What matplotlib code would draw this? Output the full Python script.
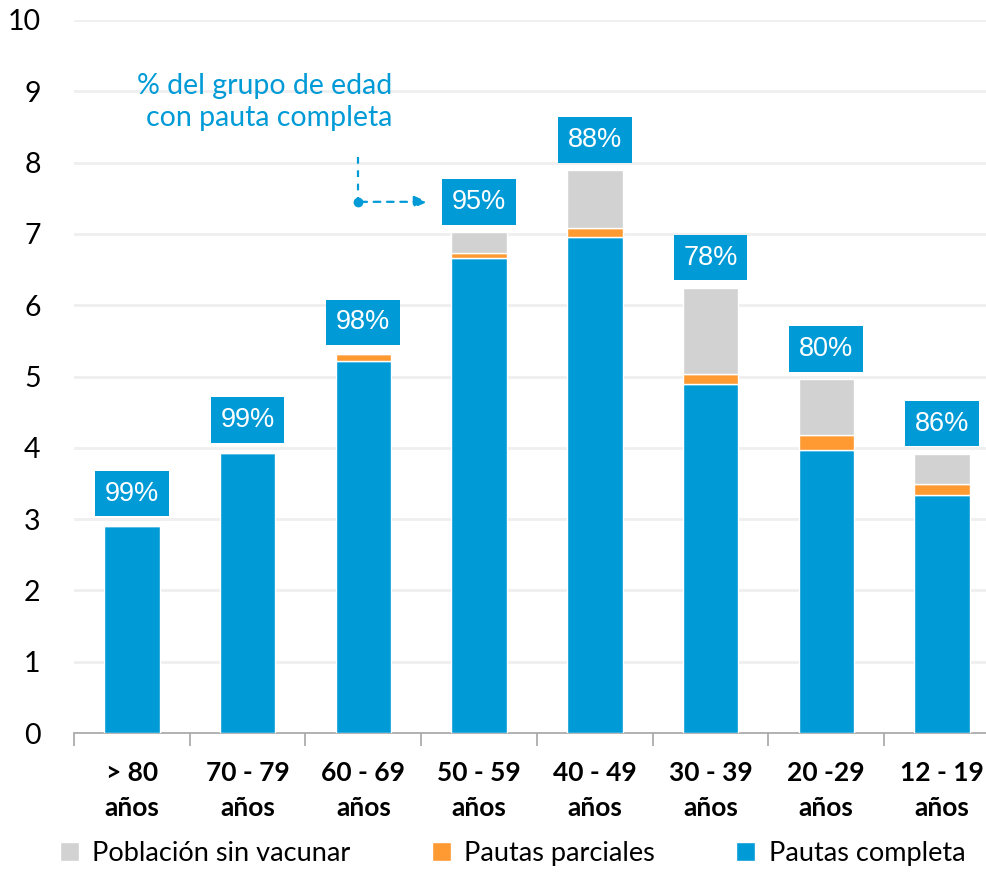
import numpy as np
import matplotlib.pyplot as plt
from matplotlib.ticker import FixedLocator

# datos (millones de personas por grupo de edad)
grupos = ['> 80\naños', '70 - 79\naños', '60 - 69\naños', '50 - 59\naños',
          '40 - 49\naños', '30 - 39\naños', '20 -29\naños', '12 - 19\naños']
completa = [2.91, 3.93, 5.22, 6.66, 6.96, 4.89, 3.97, 3.34]
parcial = [0.01, 0.01, 0.09, 0.07, 0.12, 0.15, 0.21, 0.15]
sin_vacunar = [0.01, 0.02, 0.02, 0.29, 0.81, 1.20, 0.78, 0.42]
pct = ['99%', '99%', '98%', '95%', '88%', '78%', '80%', '86%']

azul = '#009BD6'
naranja = '#FF9A33'
gris = '#D2D2D2'

plt.rcParams['font.family'] = ['Lato', 'DejaVu Sans']

fig = plt.figure(figsize=(9.86, 8.75), dpi=100)
ax = fig.add_axes([74 / 986, 142 / 875, 912 / 986, 713 / 875])

x = np.arange(len(grupos))
completa = np.array(completa)
parcial = np.array(parcial)
sin_vacunar = np.array(sin_vacunar)
w = 0.48

ax.bar(x, completa, w, color=azul, edgecolor='white', linewidth=1,
       label='Pautas completa', zorder=3)
ax.bar(x, parcial, w, bottom=completa, color=naranja, edgecolor='white',
       linewidth=1, label='Pautas parciales', zorder=3)
ax.bar(x, sin_vacunar, w, bottom=completa + parcial, color=gris,
       edgecolor='white', linewidth=1, label='Población sin vacunar', zorder=3)

total = completa + parcial + sin_vacunar
for xi, t, p in zip(x, total, pct):
    ax.annotate(p, (xi, t), xytext=(0, 22), textcoords='offset points',
                ha='center', va='center', color='white', fontsize=19.5,
                family='Liberation Sans', zorder=4,
                bbox=dict(boxstyle='square,pad=0.36', fc=azul, ec='none'))

# nota explicativa
ax.text(2.25, 8.85, '% del grupo de edad\ncon pauta completa', ha='right',
        va='center', color=azul, fontsize=20.5, linespacing=1.3)
ax.plot([1.95, 1.95], [8.08, 7.45], ls=(0, (3, 3)), color=azul, lw=1.6)
ax.plot([1.95], [7.45], 'o', color=azul, ms=6)
ax.annotate('', xy=(2.58, 7.45), xytext=(1.95, 7.45),
            arrowprops=dict(arrowstyle='-|>,head_length=0.8,head_width=0.35',
                            color=azul, lw=1.6, ls=(0, (3, 3))))

ax.set_xlim(-0.5, 7.38)
ax.set_ylim(0, 10)
ax.set_yticks(range(0, 11))
ax.yaxis.grid(True, color='#EFEFEF', lw=2, zorder=0)
ax.set_axisbelow(True)
for s in ['left', 'right', 'top']:
    ax.spines[s].set_visible(False)
ax.spines['bottom'].set_color('#A6A6A6')
ax.spines['bottom'].set_linewidth(1.2)

ax.set_xticks(x)
ax.set_xticklabels(grupos, fontsize=19, fontweight='bold', linespacing=1.55)
ax.xaxis.set_minor_locator(FixedLocator(np.arange(-0.5, 8, 1)))
ax.tick_params(axis='x', which='major', length=0, pad=20)
ax.tick_params(axis='x', which='minor', length=9, width=1.2, color='#A6A6A6')
ax.tick_params(axis='y', length=0, pad=24, labelsize=20.5)

h, l = ax.get_legend_handles_labels()
fig.legend(h[::-1], l[::-1], loc='lower center', bbox_to_anchor=(0.52, -0.018),
           ncol=3, frameon=False, fontsize=19.5, handlelength=0.7,
           handleheight=0.7, handletextpad=0.5, columnspacing=3.0)

fig.savefig('out.png', dpi=100)
